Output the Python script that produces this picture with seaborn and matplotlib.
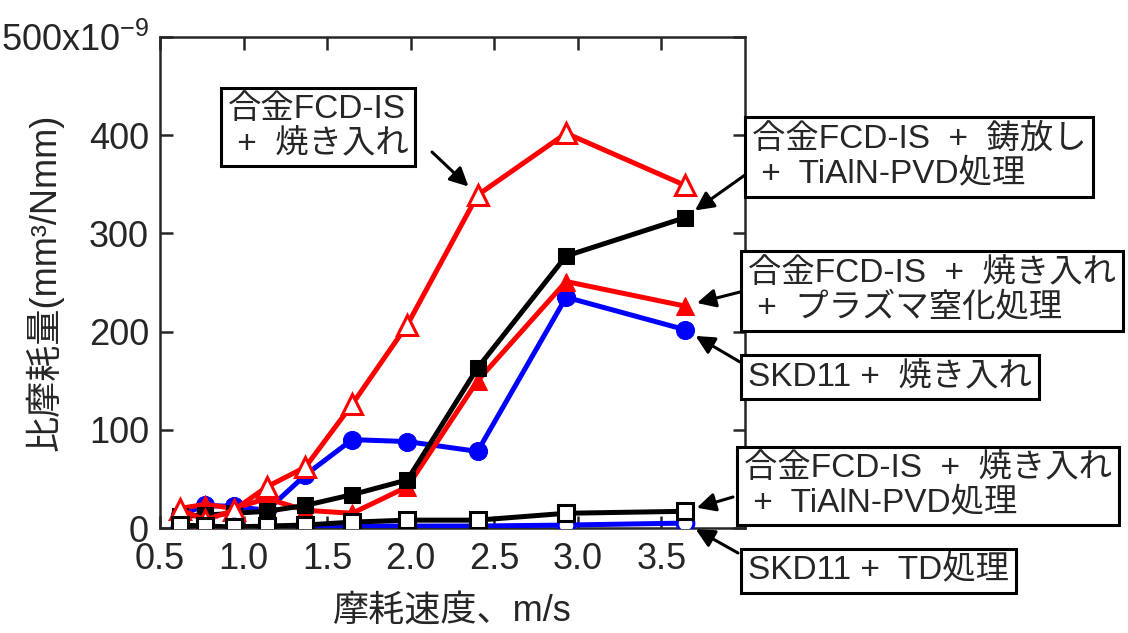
import matplotlib
matplotlib.use("Agg")
import matplotlib.pyplot as plt
import seaborn as sns

# Données (vitesse en m/s, taux d'usure spécifique x1e-9 mm3/Nmm)
vitesse = [0.62, 0.77, 0.94, 1.14, 1.37, 1.65, 1.98, 2.40, 2.93, 3.64]

fcd_yakiire = [19, 8, 18, 42, 62, 126, 207, 339, 402, 349]          # 合金FCD-IS + 焼き入れ
fcd_imono_pvd = [12, 13, 15, 17, 23, 34, 49, 163, 277, 316]         # 合金FCD-IS + 鋳放し + TiAlN-PVD
fcd_plasma = [20, 24, 20, 30, 18, 15, 42, 150, 251, 226]            # 合金FCD-IS + 焼き入れ + プラズマ窒化
skd_yakiire = [13, 23, 22, 18, 54, 90, 88, 78, 235, 202]            # SKD11 + 焼き入れ
fcd_yakiire_pvd = [3, 2, 1, 2, 3, 6, 8, 8, 15, 17]                  # 合金FCD-IS + 焼き入れ + TiAlN-PVD
skd_td = [1, 1, 1, 1, 1, 2, 2, 2, 3, 5]                             # SKD11 + TD処理

labels = [
    "合金FCD-IS\n +  焼き入れ",
    "合金FCD-IS  +  鋳放し\n +  TiAlN-PVD処理",
    "合金FCD-IS  +  焼き入れ\n +  プラズマ窒化処理",
    "SKD11 +  焼き入れ",
    "合金FCD-IS  +  焼き入れ\n +  TiAlN-PVD処理",
    "SKD11 +  TD処理",
]

sns.set_style("ticks")
plt.rcParams["font.family"] = ["Liberation Sans", "Noto Sans CJK JP"]
plt.rcParams["mathtext.fontset"] = "custom"
plt.rcParams["mathtext.rm"] = "Liberation Sans"
plt.rcParams["mathtext.default"] = "regular"

W, H = 1128, 633
fig = plt.figure(figsize=(W / 100, H / 100), dpi=100)
ax = fig.add_axes([160 / W, 1 - 528 / H, 585 / W, 491 / H])

FS = 26
FS_BOX = 24
lw = 3.6
ms = 12
mew = 2.2

sns.lineplot(x=vitesse, y=skd_yakiire, ax=ax, color="#0000ff", lw=lw, marker="o",
             markersize=ms + 1, markerfacecolor="#0000ff", markeredgecolor="#0000ff", zorder=3)
sns.lineplot(x=vitesse, y=fcd_plasma, ax=ax, color="#ff0000", lw=lw, marker="^",
             markersize=ms + 1, markerfacecolor="#ff0000", markeredgecolor="#ff0000", zorder=4)
sns.lineplot(x=vitesse, y=fcd_imono_pvd, ax=ax, color="black", lw=lw, marker="s",
             markersize=ms, markerfacecolor="black", markeredgecolor="black", zorder=4)
sns.lineplot(x=vitesse, y=fcd_yakiire, ax=ax, color="#ff0000", lw=lw, marker="^",
             markersize=ms + 2, markerfacecolor="white", markeredgecolor="#ff0000",
             markeredgewidth=mew, zorder=5)
sns.lineplot(x=vitesse, y=skd_td, ax=ax, color="#0000ff", lw=lw, marker="o",
             markersize=ms, markerfacecolor="white", markeredgecolor="#0000ff",
             markeredgewidth=mew, zorder=6)
sns.lineplot(x=vitesse, y=fcd_yakiire_pvd, ax=ax, color="black", lw=lw, marker="s",
             markersize=ms, markerfacecolor="white", markeredgecolor="black",
             markeredgewidth=mew, zorder=7)

ax.set_xlim(0.5, 4.0)
ax.set_ylim(0, 500)
ax.set_xticks([0.5, 1.0, 1.5, 2.0, 2.5, 3.0, 3.5])
ax.set_xticklabels(["0.5", "1.0", "1.5", "2.0", "2.5", "3.0", "3.5"])
ax.set_yticks([0, 100, 200, 300, 400, 500])
ax.set_yticklabels(["0", "100", "200", "300", "400", "500x10$^{-9}$"])
ax.tick_params(direction="in", length=9, width=1.8, labelsize=FS, top=True, right=True, pad=8)
ax.tick_params(axis="x", pad=10)
for s in ax.spines.values():
    s.set_linewidth(1.8)
    s.set_visible(True)

ax.set_xlabel("摩耗速度、m/s", fontsize=FS, labelpad=12)
ax.set_ylabel("比摩耗量(mm³/Nmm)", fontsize=FS)
ax.yaxis.set_label_coords(-0.165, 0.5)

# Boîtes de texte (position en pixels) et flèches
boxes = [(228, 127), (752, 157), (748, 291), (748, 377), (744, 486), (748, 571)]
fleches = [
    ((432, 152), (vitesse[7], fcd_yakiire[7])),
    ((745, 175), (vitesse[9], fcd_imono_pvd[9])),
    ((740, 292), (vitesse[9], fcd_plasma[9])),
    ((740, 362), (vitesse[9], skd_yakiire[9])),
    ((733, 497), (vitesse[9], fcd_yakiire_pvd[9])),
    ((738, 553), (vitesse[9], skd_td[9])),
]

for (px, py), txt in zip(boxes, labels):
    fig.text(px / W, 1 - py / H, txt, fontsize=FS_BOX, ha="left", va="center", linespacing=1.15,
             zorder=10,
             bbox=dict(boxstyle="square,pad=0.2", fc="white", ec="black", lw=2.2))

for (tx, ty), xy in fleches:
    ax.annotate("", xy=xy, xycoords="data", xytext=(tx / W, 1 - ty / H),
                textcoords="figure fraction",
                arrowprops=dict(arrowstyle="-|>", color="black", lw=2.2,
                                mutation_scale=28, shrinkA=0, shrinkB=9))

fig.savefig("out.png", dpi=100)
